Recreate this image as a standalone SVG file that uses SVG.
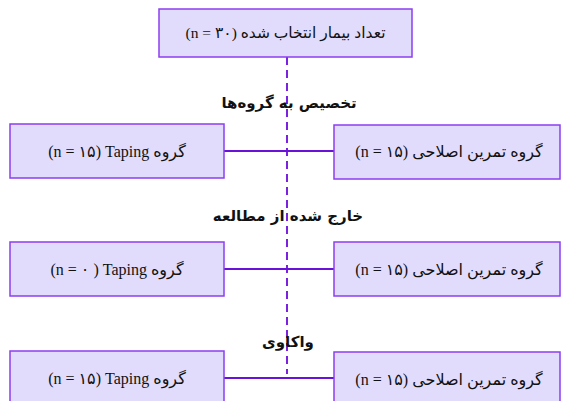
<svg xmlns="http://www.w3.org/2000/svg" width="562" height="401" viewBox="0 0 562 401">
<style>
.box{fill:#e2dcfc;stroke:#8a3ff0;stroke-width:1.5}
.t{font-family:"Liberation Serif","DejaVu Sans",serif;font-size:16px;fill:#111;text-anchor:middle;direction:rtl;unicode-bidi:embed}
.top{font-size:15.5px}
.lbl{font-family:"DejaVu Sans","Liberation Sans",sans-serif;font-size:15px;font-weight:bold;fill:#111;text-anchor:middle;direction:rtl;unicode-bidi:embed}
.conn{stroke:#6a12d8;stroke-width:2;fill:none}
.dash{stroke:#7a22e0;stroke-width:2;stroke-dasharray:8 5;fill:none}
</style>
<rect width="562" height="401" fill="#ffffff"/>
<g id="connectors">
<line class="dash" x1="287" y1="57" x2="287" y2="374"/>
<line class="conn" x1="224" y1="151" x2="334" y2="151"/>
<line class="conn" x1="224" y1="269" x2="334" y2="269"/>
<line class="conn" x1="224" y1="378" x2="334" y2="378"/>
</g>
<g id="n-total"><rect class="box" x="159" y="9" width="253" height="48"/><text class="t top" x="285.5" y="38">تعداد بیمار انتخاب شده (n = ۳۰)</text></g>
<g id="label-allocation"><text class="lbl" x="289" y="108">تخصیص به گروه‌ها</text></g>
<g id="n-taping-1"><rect class="box" x="10" y="124" width="214" height="54"/><text class="t" x="117" y="157">گروه Taping&#x200F; (n = ۱۵)</text></g>
<g id="n-corr-1"><rect class="box" x="334" y="125" width="226" height="54"/><text class="t" x="449" y="157">گروه تمرین اصلاحی (n = ۱۵)</text></g>
<g id="label-excluded"><text class="lbl" x="288" y="221">خارج شده از مطالعه</text></g>
<g id="n-taping-2"><rect class="box" x="10" y="242" width="214" height="54"/><text class="t" x="117" y="275">گروه Taping&#x200F; ( n = ۰)</text></g>
<g id="n-corr-2"><rect class="box" x="334" y="242" width="226" height="54"/><text class="t" x="449" y="275">گروه تمرین اصلاحی (n = ۱۵)</text></g>
<g id="label-analysis"><text class="lbl" x="288" y="347">واکاوی</text></g>
<g id="n-taping-3"><rect class="box" x="10" y="351" width="214" height="54"/><text class="t" x="117" y="384">گروه Taping&#x200F; (n = ۱۵)</text></g>
<g id="n-corr-3"><rect class="box" x="334" y="352" width="226" height="54"/><text class="t" x="449" y="385">گروه تمرین اصلاحی (n = ۱۵)</text></g>
</svg>
